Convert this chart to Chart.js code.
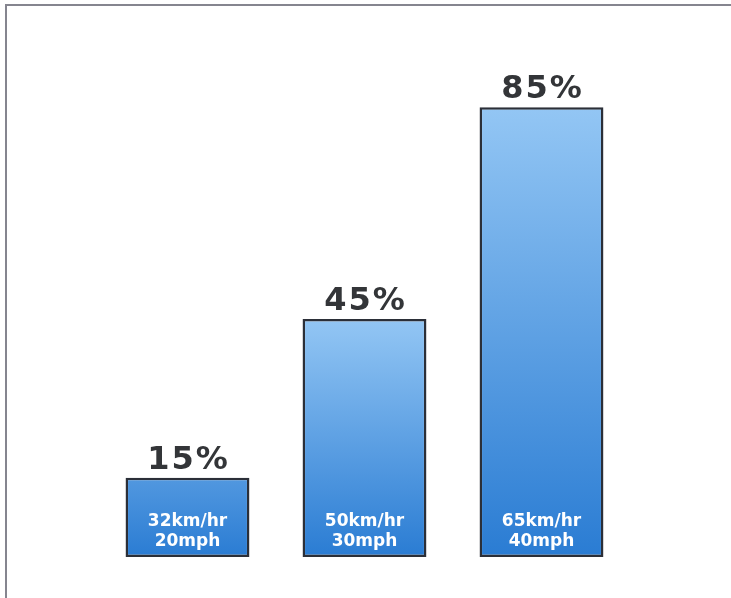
<!DOCTYPE html>
<html>
<head>
<meta charset="utf-8">
<script src="https://cdn.jsdelivr.net/npm/chart.js@4.4.1/dist/chart.umd.min.js"></script>
<style>
  html, body { margin: 0; padding: 0; background: #fff; }
  #wrap { width: 731px; height: 598px; position: relative; }
</style>
</head>
<body>
<div id="wrap"><canvas id="chart"></canvas></div>
<script>
const categorias = ["20mph", "30mph", "40mph"];
const kmh = ["32km/hr", "50km/hr", "65km/hr"];
const mph = ["20mph", "30mph", "40mph"];
const porcentajes = [15, 45, 85];

function degradado(ctx) {
    const chart = ctx.chart;
    const y = chart.scales.y;
    if (!y || ctx.type !== "data") return "#4a94e0";
    const base = y.getPixelForValue(0);
    const top = y.getPixelForValue(ctx.raw);
    if (!isFinite(base) || !isFinite(top)) return "#4a94e0";
    const inicio = Math.min(top, base - 210);
    const g = chart.ctx.createLinearGradient(0, inicio, 0, base);
    g.addColorStop(0, "#93c6f4");
    g.addColorStop(1, "#2a7cd3");
    return g;
}

const marco = {
    id: "marco",
    beforeDraw(chart) {
        const c = chart.ctx;
        c.save();
        c.strokeStyle = "#85858f";
        c.lineWidth = 2;
        c.beginPath();
        c.moveTo(6, 598);
        c.lineTo(6, 5);
        c.lineTo(731, 5);
        c.stroke();
        c.restore();
    }
};

const etiquetas = {
    id: "etiquetas",
    afterDatasetsDraw(chart) {
        const c = chart.ctx;
        const meta = chart.getDatasetMeta(0);
        c.save();
        c.textAlign = "center";
        meta.data.forEach((bar, i) => {
            c.fillStyle = "#333538";
            c.font = "bold 32px 'DejaVu Sans', sans-serif";
            c.letterSpacing = "2px";
            c.textBaseline = "alphabetic";
            c.fillText(porcentajes[i] + "%", bar.x + 1, bar.y - 9);
            c.letterSpacing = "0px";
            c.fillStyle = "#ffffff";
            c.font = "bold 17px 'DejaVu Sans', sans-serif";
            c.textBaseline = "middle";
            c.fillText(kmh[i], bar.x, 522);
            c.fillText(mph[i], bar.x, 542);
        });
        c.restore();
    }
};

new Chart(document.getElementById("chart"), {
    type: "bar",
    data: {
        labels: categorias,
        datasets: [{
            data: porcentajes,
            backgroundColor: degradado,
            borderColor: "#2b2f38",
            borderWidth: 2.5,
            borderSkipped: false,
            barPercentage: 0.7,
            categoryPercentage: 1
        }]
    },
    options: {
        responsive: true,
        maintainAspectRatio: false,
        animation: false,
        layout: { padding: { left: 99, right: 101, top: 28, bottom: 41 } },
        scales: {
            x: { display: false },
            y: { display: false, min: 0, max: 100 }
        },
        plugins: {
            legend: { display: false },
            tooltip: { enabled: false }
        }
    },
    plugins: [marco, etiquetas]
});
</script>
</body>
</html>
